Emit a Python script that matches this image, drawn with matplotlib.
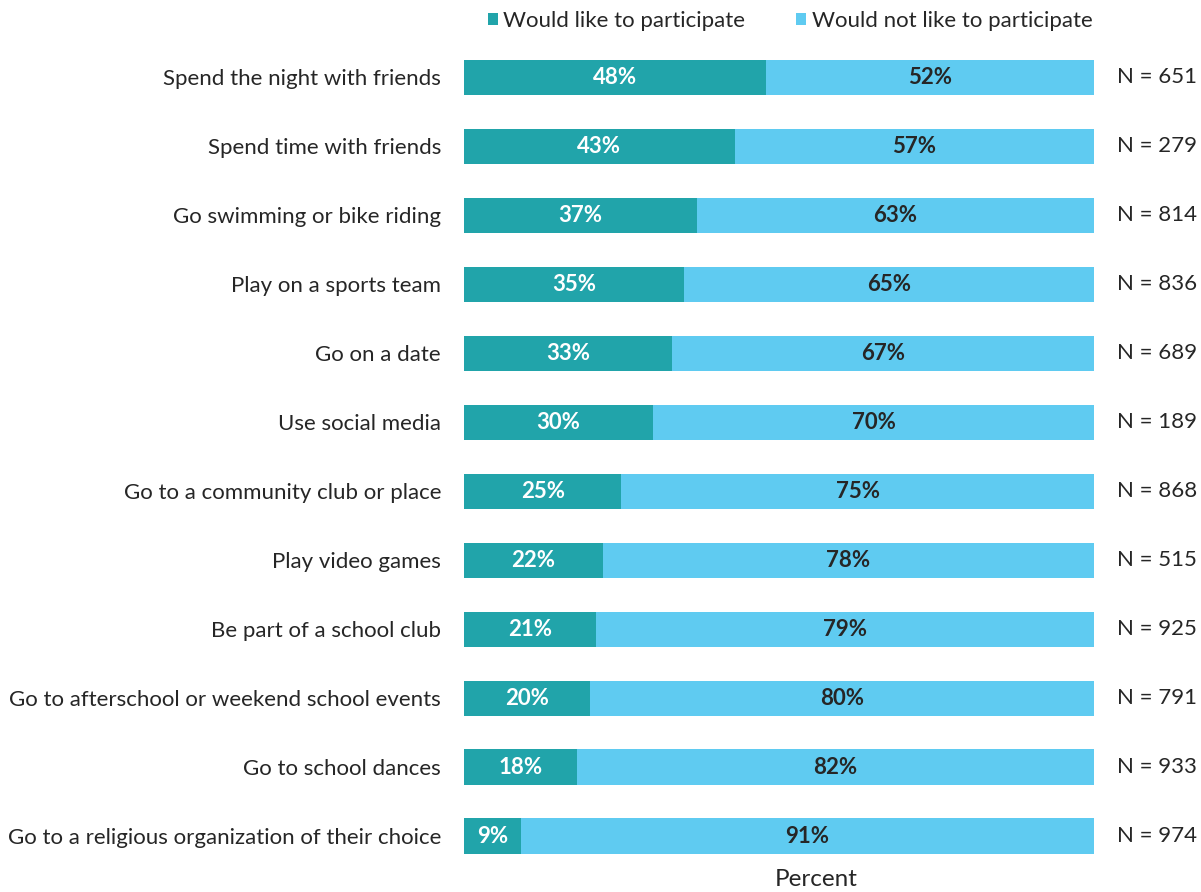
import matplotlib.pyplot as plt
import numpy as np

# Datos de la grafica
actividades = ["Spend the night with friends", "Spend time with friends",
               "Go swimming or bike riding", "Play on a sports team",
               "Go on a date", "Use social media",
               "Go to a community club or place", "Play video games",
               "Be part of a school club", "Go to afterschool or weekend school events",
               "Go to school dances", "Go to a religious organization of their choice"]
si_participa = [48, 43, 37, 35, 33, 30, 25, 22, 21, 20, 18, 9]
no_participa = [52, 57, 63, 65, 67, 70, 75, 78, 79, 80, 82, 91]
n_total = [651, 279, 814, 836, 689, 189, 868, 515, 925, 791, 933, 974]

plt.rcParams['font.family'] = ['Lato', 'DejaVu Sans']
gris = '#262626'
c1 = '#21A4AA'
c2 = '#5FCBF1'
fs = 16

fig = plt.figure(figsize=(12.01, 8.92), dpi=100)
ax = fig.add_axes([0.3863, 0.0241, 0.5246, 0.9277])

y = np.arange(len(actividades))
b1 = ax.barh(y, si_participa, height=0.51, color=c1, label='Would like to participate')
b2 = ax.barh(y, no_participa, left=si_participa, height=0.51, color=c2,
             label='Would not like to participate')

# Etiquetas de porcentaje dentro de cada segmento y N a la derecha
for i in range(len(y)):
    ax.text(si_participa[i] / 2, y[i], f"{si_participa[i]}%", ha='center', va='center',
            color='white', fontsize=fs, fontweight='bold')
    ax.text(si_participa[i] + no_participa[i] / 2, y[i], f"{no_participa[i]}%",
            ha='center', va='center', color=gris, fontsize=fs, fontweight='bold')
    ax.text(103.6, y[i], f"N = {n_total[i]}", ha='left', va='center', color=gris, fontsize=fs)

ax.set_xlim(0, 100)
ax.set_ylim(len(y) - 0.5, -0.5)
ax.set_yticks(y)
ax.set_yticklabels(actividades, fontsize=fs, color=gris)
ax.tick_params(axis='y', length=0, pad=16.5)
ax.set_xticks([])
for s in ax.spines.values():
    s.set_visible(False)

fig.text(0.680, 0.0135, "Percent", ha='center', va='center', fontsize=17.5, color=gris)
fig.legend(handles=[b1, b2], loc='center', bbox_to_anchor=(0.658, 0.977), ncol=2,
           frameon=False, fontsize=fs, handlelength=0.45, handleheight=0.45,
           handletextpad=0.23, columnspacing=2.3, labelcolor=gris)

fig.savefig('out.png', dpi=100)
